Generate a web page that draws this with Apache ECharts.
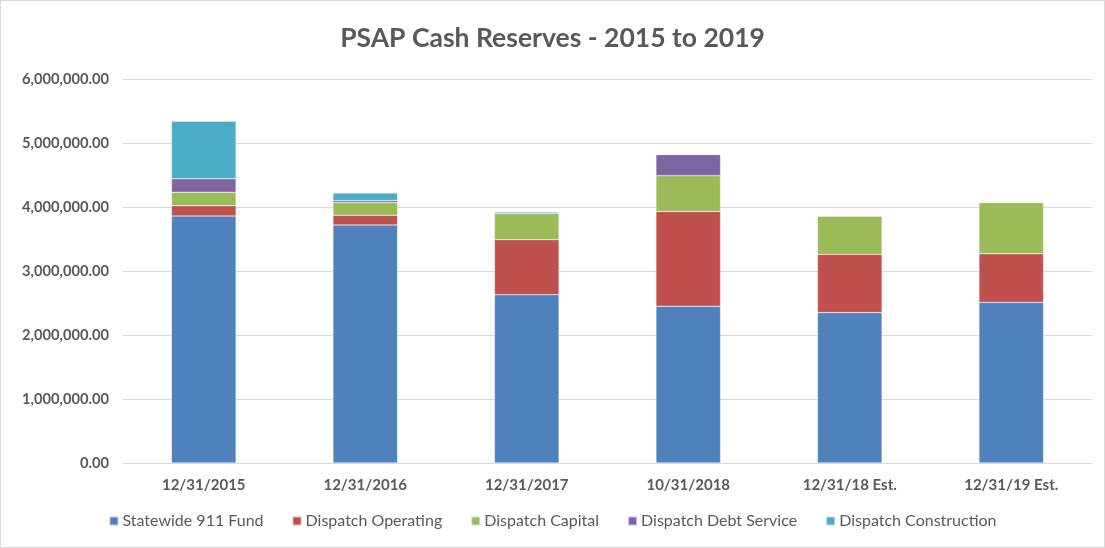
<!DOCTYPE html>
<html>
<head>
<meta charset="utf-8">
<script src="https://cdn.jsdelivr.net/npm/echarts@6/dist/echarts.min.js"></script>
<style>
  html, body { margin: 0; padding: 0; background: #fff; }
  #psapChart { width: 1103px; height: 546px; border: 1px solid #d9d9d9; }
</style>
</head>
<body>
<div id="psapChart"></div>
<script>
// dates on the x axis
var categories = ['12/31/2015', '12/31/2016', '12/31/2017', '10/31/2018', '12/31/18 Est.', '12/31/19 Est.'];

// stacked pieces
var statewideFund = [3860000, 3720000, 2630000, 2450000, 2350000, 2510000];
var dispatchOperating = [160000, 150000, 860000, 1480000, 910000, 760000];
var dispatchCapital = [210000, 200000, 410000, 560000, 600000, 800000];
var dispatchDebtService = [210000, 30000, 0, 330000, 0, 0];
var dispatchConstruction = [900000, 120000, 20000, 0, 0, 0];

var yTicks = [0, 1000000, 2000000, 3000000, 4000000, 5000000, 6000000];

var chart = echarts.init(document.getElementById('psapChart'));
var txt = '#595959';
var fnt = 'Lato, "Open Sans", sans-serif';

function fmtMoney(v) {
	var s = Math.round(v).toString().replace(/\B(?=(\d{3})+(?!\d))/g, ',');
	return s + '.00';
}

function barSeries(name, data, color) {
	return {
		name: name,
		type: 'bar',
		stack: 'total',
		barWidth: '40%',
		data: data,
		itemStyle: { color: color, borderColor: 'rgba(255,255,255,0.6)', borderWidth: 0.5 }
	};
}

chart.setOption({
	animation: false,
	textStyle: { fontFamily: fnt },
	title: {
		text: 'PSAP Cash Reserves - 2015 to 2019',
		left: 'center',
		top: 19,
		textStyle: { color: txt, fontSize: 26.5, fontWeight: 'bold', fontFamily: fnt }
	},
	legend: {
		bottom: 13,
		left: 'center',
		itemWidth: 9,
		itemHeight: 9,
		itemGap: 28,
		icon: 'rect',
		textStyle: { color: txt, fontSize: 16, fontFamily: fnt, padding: [0, 0, 0, -1] }
	},
	grid: { left: 122, right: 12, top: 78, bottom: 84 },
	xAxis: {
		type: 'category',
		data: categories,
		axisTick: { show: false },
		axisLine: { lineStyle: { color: '#d9d9d9' } },
		axisLabel: { color: txt, fontSize: 15, fontWeight: 'bold', margin: 15, fontFamily: fnt }
	},
	yAxis: {
		type: 'value',
		min: yTicks[0],
		max: yTicks[yTicks.length - 1],
		interval: 1000000,
		axisLine: { show: false },
		axisTick: { show: false },
		splitLine: { lineStyle: { color: '#d9d9d9' } },
		axisLabel: { color: txt, fontSize: 14.7, fontWeight: 'bold', margin: 14, fontFamily: fnt, formatter: fmtMoney }
	},
	series: [
		barSeries('Statewide 911 Fund', statewideFund, '#4f81bd'),
		barSeries('Dispatch Operating', dispatchOperating, '#c0504d'),
		barSeries('Dispatch Capital', dispatchCapital, '#9bbb59'),
		barSeries('Dispatch Debt Service', dispatchDebtService, '#8064a2'),
		barSeries('Dispatch Construction', dispatchConstruction, '#4bacc6')
	]
});
</script>
</body>
</html>
